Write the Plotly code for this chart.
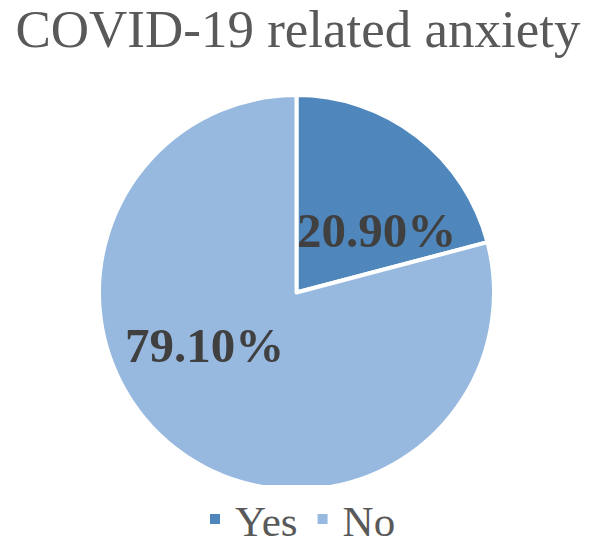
import plotly.graph_objects as go

labels = ["Yes", "No"]
values = [20.90, 79.10]
colors = ["#4F87BC", "#97B9E0"]
label_text = ["20.90%", "79.10%"]

W, H = 596, 546
fig = go.Figure(go.Pie(
    labels=labels, values=values, sort=False, direction="clockwise", rotation=0,
    marker=dict(colors=colors, line=dict(color="white", width=4)),
    textinfo="none", hoverinfo="label+percent",
    domain=dict(x=[98/W, 495/W], y=[(H-490)/H, (H-95)/H]),
))

ann_pos = [(376/W, 1-230/H), (205/W, 1-345/H)]
for (x, y), t in zip(ann_pos, label_text):
    fig.add_annotation(x=x, y=y, xref="paper", yref="paper", text=f"<b>{t}</b>",
                       showarrow=False, font=dict(family="Liberation Serif", size=49, color="#404040"))

fig.update_layout(
    width=W, height=H, margin=dict(l=0, r=0, t=0, b=0, autoexpand=False),
    paper_bgcolor="white", plot_bgcolor="white",
    title=dict(text="COVID-19 related anxiety", x=0.5, xanchor="center", y=1-28/H, yanchor="middle",
               font=dict(family="Liberation Serif", size=53, color="#595959")),
    legend=dict(orientation="h", x=0.5, xanchor="center", y=1-519/H, yanchor="middle",
                font=dict(family="Liberation Serif", size=43, color="#595959"),
                itemsizing="constant"),
)
fig.write_html("out.html")
